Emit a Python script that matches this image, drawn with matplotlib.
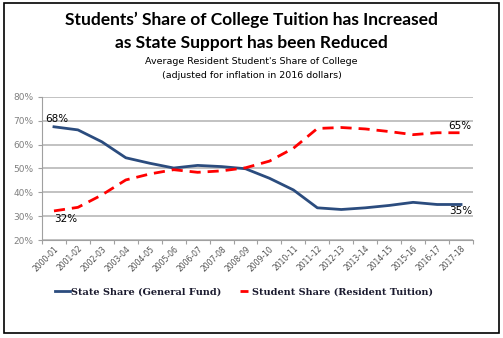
import matplotlib
matplotlib.use('Agg')
import matplotlib.pyplot as plt
from matplotlib.lines import Line2D
from matplotlib.patches import Rectangle
from matplotlib.ticker import FuncFormatter

years = ['2000-01', '2001-02', '2002-03', '2003-04', '2004-05', '2005-06',
         '2006-07', '2007-08', '2008-09', '2009-10', '2010-11', '2011-12',
         '2012-13', '2013-14', '2014-15', '2015-16', '2016-17', '2017-18']
state_share = [67.5, 66.2, 61.2, 54.5, 52.2, 50.2, 51.3, 50.8, 49.9, 45.9,
               41.0, 33.5, 32.8, 33.5, 34.5, 35.8, 34.9, 34.9]
student_share = [32.2, 33.7, 38.9, 45.2, 47.7, 49.5, 48.4, 49.0, 50.3, 53.1,
                 58.5, 66.8, 67.2, 66.6, 65.5, 64.2, 65.0, 65.0]

state_color = '#2b4c7e'
student_color = '#ff0000'

fig = plt.figure(figsize=(5.03, 3.38), dpi=100)
ax = fig.add_axes([42 / 503, 1 - 240 / 338, 431 / 503, 143 / 338])

x = range(len(years))
ax.plot(x, state_share, color=state_color, linewidth=2)
ax.plot(x, student_share, color=student_color, linewidth=2, linestyle=(0, (4, 2.5)))

ax.set_xlim(-0.5, len(years) - 0.5)
ax.set_ylim(20, 80)
ax.set_yticks(range(20, 81, 10))
ax.yaxis.set_major_formatter(FuncFormatter(lambda v, _: f'{v:.0f}%'))
ax.set_xticks([i - 0.5 for i in range(len(years) + 1)])
ax.set_xticklabels([])
ax.set_xticks(list(x), minor=True)
ax.set_xticklabels(years, minor=True, rotation=45, ha='right',
                   rotation_mode='anchor', fontsize=5.5, color='#505050')
ax.tick_params(axis='x', which='minor', length=0, pad=3)
ax.tick_params(axis='x', which='major', length=3, color='#a0a0a0')
ax.tick_params(axis='y', length=3, color='#a0a0a0', labelsize=6.5,
               labelcolor='#808080', pad=3)
ax.grid(axis='y', color='#b8b8b8', linewidth=1.2)
ax.set_axisbelow(True)
for side in ['top', 'right']:
    ax.spines[side].set_visible(False)
for side in ['left', 'bottom']:
    ax.spines[side].set_color('#a0a0a0')

# end labels
ax.text(-0.35, state_share[0] + 1.2, '68%', fontsize=7.5, ha='left', va='bottom')
ax.text(0, student_share[0] - 1.5, '32%', fontsize=7.5, ha='left', va='top')
ax.text(17.45, student_share[-1] + 0.8, '65%', fontsize=7.5, ha='right', va='bottom')
ax.text(17.45, state_share[-1] - 0.8, '35%', fontsize=7.5, ha='right', va='top')

# titles
fig.text(0.5, 1 - 20 / 338, 'Students\u2019 Share of College Tuition has Increased',
         ha='center', va='center', fontsize=12.5, fontweight='bold', family='Lato')
fig.text(0.5, 1 - 43 / 338, 'as State Support has been Reduced',
         ha='center', va='center', fontsize=12.5, fontweight='bold', family='Lato')
fig.text(0.5, 1 - 62 / 338, 'Average Resident Student\'s Share of College',
         ha='center', va='center', fontsize=6.8)
fig.text(0.5, 1 - 75 / 338, '(adjusted for inflation in 2016 dollars)',
         ha='center', va='center', fontsize=6.8)

# legend: the tuition entry shows a single short dash, as in the source
handles = [
    Line2D([], [], color=state_color, linewidth=2),
    Line2D([], [], color=student_color, linestyle='none', marker='_',
           markersize=6, markeredgewidth=2),
]
labels = ['State Share (General Fund)', 'Student Share (Resident Tuition)']
fig.legend(handles, labels, loc='center', bbox_to_anchor=(244 / 503, 1 - 292 / 338),
           ncol=2, frameon=False, handlelength=1.6, columnspacing=1.5,
           handletextpad=0.1, labelcolor='#1a1a2e',
           prop={'family': 'DejaVu Serif', 'weight': 'bold', 'size': 7})

fig.patches.append(Rectangle((4 / 503, 5 / 338), 495 / 503, 330 / 338,
                             transform=fig.transFigure, fill=False,
                             edgecolor='black', linewidth=1.2))

fig.savefig('out.png', dpi=100)
